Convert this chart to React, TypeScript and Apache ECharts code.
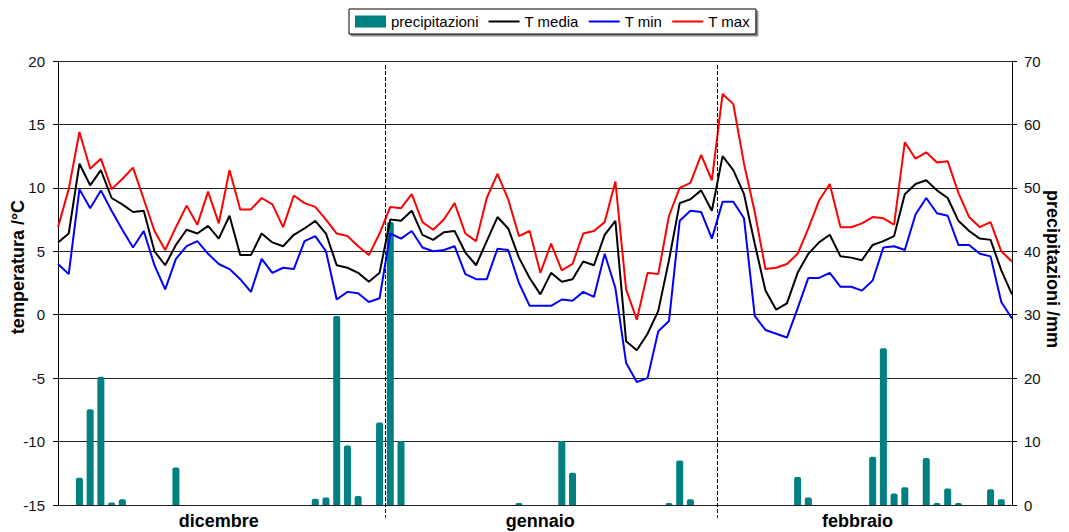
import React, { useEffect, useRef } from "react";
import * as echarts from "echarts";

const months = ["dicembre", "gennaio", "febbraio"];
const monthDays = [31, 31, 28];
const monthLabelIndex = [15, 45, 75];

const tMedia = [
  5.7, 6.4, 11.9, 10.2, 11.4, 9.2, 8.7, 8.1, 8.2, 5.0,
  3.9, 5.5, 6.7, 6.4, 7.0, 6.0, 7.8, 4.7, 4.7, 6.4,
  5.7, 5.4, 6.3, 6.8, 7.4, 6.4, 3.9, 3.7, 3.3, 2.6,
  3.3, 7.5, 7.4, 8.2, 6.3, 5.9, 6.5, 6.6, 4.9, 3.9,
  5.8, 7.7, 6.8, 4.5, 2.9, 1.6, 3.3, 2.6, 2.8, 4.2,
  3.9, 6.3, 7.4, -2.1, -2.8, -1.5, 0.3, 4.3, 8.8, 9.1,
  9.8, 8.2, 12.5, 11.4, 9.5, 5.6, 1.9, 0.4, 0.9, 3.3,
  4.8, 5.7, 6.3, 4.6, 4.5, 4.3, 5.5, 5.8, 6.2, 9.5,
  10.3, 10.6, 9.8, 9.2, 7.4, 6.6, 6.0, 5.9, 3.5, 1.6,
];

const tMin = [
  4.0, 3.2, 9.9, 8.4, 9.8, 8.2, 6.7, 5.3, 6.6, 3.9,
  2.0, 4.4, 5.4, 5.8, 4.8, 4.0, 3.6, 2.8, 1.8, 4.4,
  3.3, 3.7, 3.6, 5.8, 6.2, 5.0, 1.2, 1.8, 1.7, 1.0,
  1.3, 6.4, 6.0, 6.6, 5.3, 5.0, 5.1, 5.4, 3.2, 2.8,
  2.8, 5.2, 5.1, 2.5, 0.7, 0.7, 0.7, 1.2, 1.1, 1.8,
  1.4, 4.8, 2.1, -3.8, -5.3, -5.0, -1.3, -0.5, 7.4, 8.2,
  8.1, 6.0, 8.9, 8.9, 7.6, -0.1, -1.2, -1.5, -1.8, 0.5,
  2.9, 2.9, 3.3, 2.2, 2.2, 1.9, 2.7, 5.3, 5.4, 5.1,
  7.9, 9.2, 8.0, 7.8, 5.5, 5.5, 4.8, 4.6, 1.0, -0.3,
];

const tMax = [
  6.9, 9.9, 14.4, 11.5, 12.3, 9.9, 10.7, 11.6, 9.1, 6.6,
  5.1, 6.9, 8.6, 7.1, 9.7, 7.2, 11.4, 8.3, 8.3, 9.2,
  8.7, 6.9, 9.4, 8.8, 8.5, 7.5, 6.4, 6.2, 5.4, 4.7,
  6.4, 8.5, 8.4, 9.5, 7.3, 6.7, 7.5, 8.8, 6.4, 5.8,
  9.2, 11.1, 9.1, 6.2, 6.6, 3.3, 5.6, 3.5, 4.0, 6.4,
  6.6, 7.3, 10.5, 2.0, -0.4, 3.3, 3.2, 7.8, 10.0, 10.4,
  12.6, 10.6, 17.4, 16.6, 11.9, 8.1, 3.6, 3.7, 4.0, 4.8,
  6.8, 9.0, 10.3, 6.9, 6.9, 7.2, 7.7, 7.6, 7.1, 13.6,
  12.3, 12.8, 12.0, 12.1, 9.6, 7.7, 6.9, 7.3, 5.0, 4.2,
];

const precipitazioni = [
  0, 0, 4.3, 15.1, 20.2, 0.4, 0.9, 0, 0, 0,
  0, 5.9, 0, 0, 0, 0, 0, 0, 0, 0,
  0, 0, 0, 0, 1.0, 1.2, 29.8, 9.4, 1.4, 0,
  13.0, 44.6, 10.1, 0, 0, 0, 0, 0, 0, 0,
  0, 0, 0, 0.3, 0, 0, 0, 10.1, 5.1, 0,
  0, 0, 0, 0, 0, 0, 0, 0.3, 7.0, 0.9,
  0, 0, 0, 0, 0, 0, 0, 0, 0, 4.4,
  1.2, 0, 0, 0, 0, 0, 7.6, 24.7, 1.8, 2.8,
  0, 7.4, 0.3, 2.6, 0.3, 0, 0, 2.5, 0.9, 0,
];

const tempAxis = { min: -15, max: 20, interval: 5 };
const precAxis = { min: 0, max: 70, interval: 10 };

const categories: string[] = [];
months.forEach((m, mi) => {
  for (let d = 1; d <= monthDays[mi]; d++) categories.push(m + " " + d);
});

const FONT = "'Liberation Sans', Arial, sans-serif";
const hiddenSymbol = { color: "rgba(0,0,0,0)", borderWidth: 0, opacity: 0 };

export default function App() {
  const ref = useRef<HTMLDivElement>(null);
  useEffect(() => {
    if (!ref.current) return;
    const chart = echarts.init(ref.current, undefined, { renderer: "svg" });
    const option: any = {
      animation: false,
      backgroundColor: "#fff",
      textStyle: { fontFamily: FONT },
      grid: { left: 58, right: 57, top: 61, bottom: 27, containLabel: false },
      legend: {
        left: 349,
        top: 9,
        padding: [5, 6, 5, 6],
        itemGap: 9,
        itemWidth: 31,
        itemHeight: 12,
        borderColor: "#000",
        borderWidth: 1,
        backgroundColor: "#fff",
        shadowColor: "rgba(0,0,0,0.45)",
        shadowOffsetX: 2,
        shadowOffsetY: 2,
        shadowBlur: 0,
        textStyle: { fontSize: 15, color: "#000", fontFamily: FONT },
        data: [
          { name: "precipitazioni", icon: "rect" },
          { name: "T media", itemStyle: hiddenSymbol },
          { name: "T min", itemStyle: hiddenSymbol },
          { name: "T max", itemStyle: hiddenSymbol },
        ],
      },
      xAxis: {
        type: "category",
        data: categories,
        boundaryGap: false,
        axisLine: { show: true, lineStyle: { color: "#000", width: 1 } },
        axisTick: { show: false },
        splitLine: { show: false },
        axisLabel: {
          interval: (i: number) => monthLabelIndex.includes(i),
          margin: 6,
          formatter: (_v: string, i: number) => {
            const k = monthLabelIndex.indexOf(i);
            if (k < 0) return "";
            return k === 2 ? "{f|" + months[k] + "}" : "{m|" + months[k] + "}";
          },
          rich: {
            m: { fontSize: 18, fontWeight: "bold", color: "#000", fontFamily: FONT, lineHeight: 20 },
            f: { fontSize: 18, fontWeight: "bold", color: "#000", fontFamily: FONT, lineHeight: 20, padding: [0, 9, 0, 0] },
          },
        },
      },
      yAxis: [
        {
          type: "value",
          min: tempAxis.min,
          max: tempAxis.max,
          interval: tempAxis.interval,
          position: "left",
          axisLine: { show: true, lineStyle: { color: "#000", width: 1 } },
          axisTick: { show: true, length: 5, inside: false, lineStyle: { color: "#000" } },
          axisLabel: { fontSize: 15, color: "#111", margin: 13, fontFamily: FONT },
          splitLine: { show: true, lineStyle: { color: "#222", width: 1 } },
        },
        {
          type: "value",
          min: precAxis.min,
          max: precAxis.max,
          interval: precAxis.interval,
          position: "right",
          axisLine: { show: true, lineStyle: { color: "#000", width: 1 } },
          axisTick: { show: true, length: 5, inside: false, lineStyle: { color: "#000" } },
          axisLabel: { fontSize: 15, color: "#111", margin: 12, fontFamily: FONT },
          splitLine: { show: false },
        },
      ],
      series: [
        {
          name: "precipitazioni",
          type: "bar",
          yAxisIndex: 1,
          data: precipitazioni,
          barWidth: 7,
          itemStyle: { color: "#008080", borderRadius: [2, 2, 0, 0] },
          z: 1,
        },
        {
          name: "T media",
          type: "line",
          data: tMedia,
          symbol: "none",
          lineStyle: { color: "#000", width: 2 },
          itemStyle: { color: "#000" },
          z: 3,
        },
        {
          name: "T min",
          type: "line",
          data: tMin,
          symbol: "none",
          lineStyle: { color: "#0000ff", width: 2 },
          itemStyle: { color: "#0000ff" },
          z: 3,
        },
        {
          name: "T max",
          type: "line",
          data: tMax,
          symbol: "none",
          lineStyle: { color: "#ff0000", width: 2 },
          itemStyle: { color: "#ff0000" },
          z: 3,
        },
      ],
      graphic: [
        {
          type: "text",
          x: 18,
          y: 267,
          rotation: Math.PI / 2,
          style: {
            text: "temperatura /°C",
            fontSize: 18,
            fontWeight: "bold",
            fontFamily: FONT,
            fill: "#000",
            align: "center",
            verticalAlign: "middle",
          },
        },
        {
          type: "text",
          x: 1053,
          y: 269,
          rotation: -Math.PI / 2,
          style: {
            text: "precipitazioni /mm",
            fontSize: 18,
            fontWeight: "bold",
            fontFamily: FONT,
            fill: "#000",
            align: "center",
            verticalAlign: "middle",
          },
        },
      ],
    };
    chart.setOption(option);

    // month dividers between last day of a month and first day of the next
    const dividers: any[] = [];
    let acc = 0;
    for (let mi = 0; mi < monthDays.length - 1; mi++) {
      acc += monthDays[mi];
      const a = chart.convertToPixel({ xAxisIndex: 0 }, categories[acc - 1]) as number;
      const b = chart.convertToPixel({ xAxisIndex: 0 }, categories[acc]) as number;
      const x = Math.round((a + b) / 2) + 0.5;
      dividers.push({
        type: "line",
        shape: { x1: x, y1: 65, x2: x, y2: 518 },
        style: { stroke: "#000", lineWidth: 1, lineDash: [4, 2] },
        z: 10,
      });
    }
    chart.setOption({ graphic: [...option.graphic, ...dividers] });

    return () => chart.dispose();
  }, []);
  return (
    <div
      ref={ref}
      style={{ position: "absolute", left: 0, top: 0, width: 1069, height: 532 }}
    />
  );
}
